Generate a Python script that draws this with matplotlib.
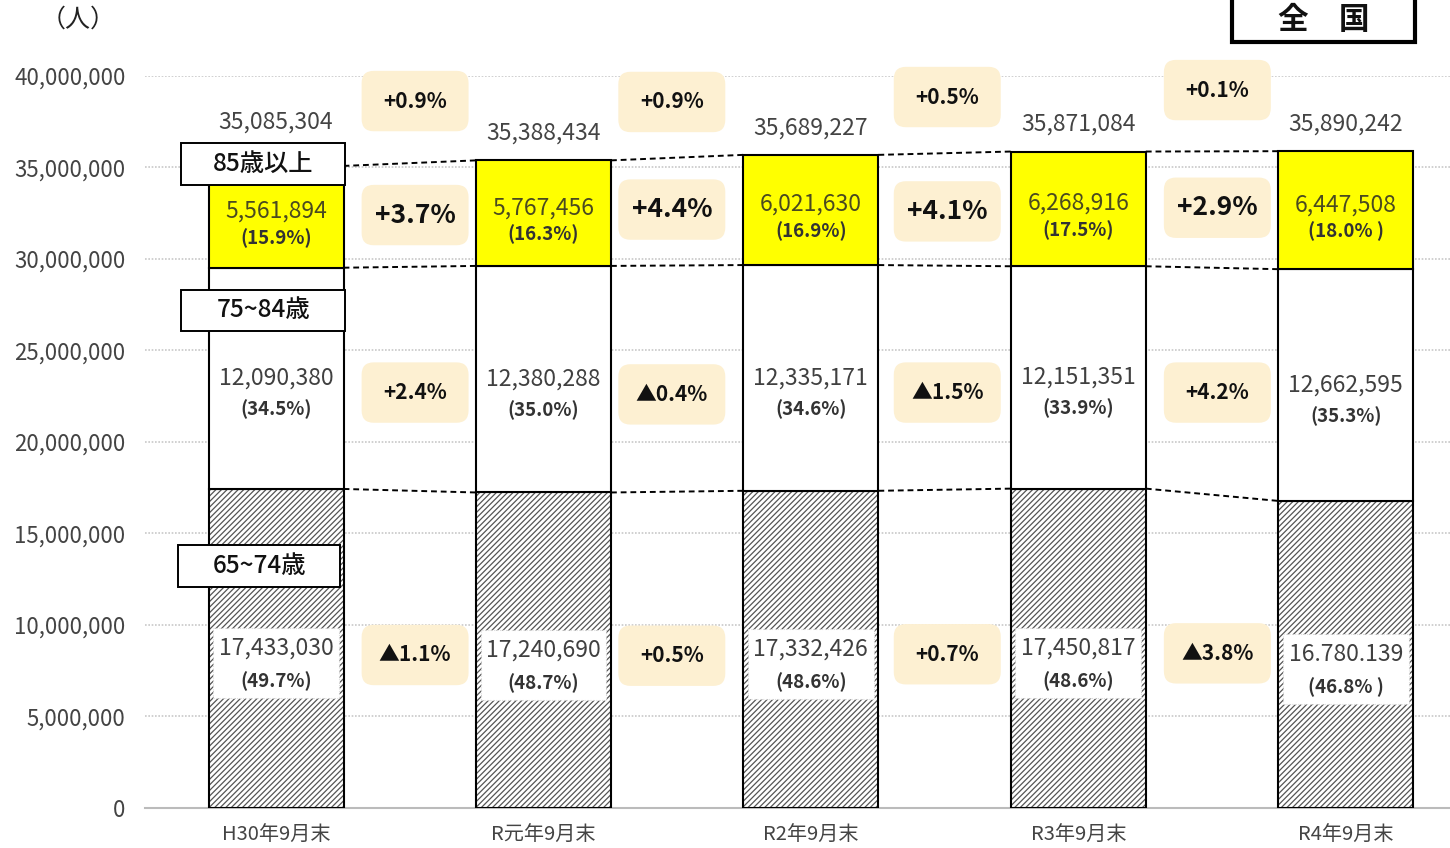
import numpy as np
import matplotlib
matplotlib.use("Agg")
import matplotlib.pyplot as plt
from matplotlib.patches import Rectangle, FancyBboxPatch
from matplotlib.ticker import FuncFormatter

plt.rcParams['font.family'] = ['Noto Sans CJK JP', 'DejaVu Sans']
plt.rcParams['hatch.linewidth'] = 0.9

# --- データ ---
periods = ['H30年9月末', 'R元年9月末', 'R2年9月末', 'R3年9月末', 'R4年9月末']
age_65_74 = [17433030, 17240690, 17332426, 17450817, 16780139]
age_75_84 = [12090380, 12380288, 12335171, 12151351, 12662595]
age_85_up = [5561894, 5767456, 6021630, 6268916, 6447508]
totals = [35085304, 35388434, 35689227, 35871084, 35890242]

lbl_65_74 = ['17,433,030', '17,240,690', '17,332,426', '17,450,817', '16.780.139']
lbl_75_84 = ['12,090,380', '12,380,288', '12,335,171', '12,151,351', '12,662,595']
lbl_85_up = ['5,561,894', '5,767,456', '6,021,630', '6,268,916', '6,447,508']
pct_65_74 = ['(49.7%)', '(48.7%)', '(48.6%)', '(48.6%)', '(46.8% )']
pct_75_84 = ['(34.5%)', '(35.0%)', '(34.6%)', '(33.9%)', '(35.3%)']
pct_85_up = ['(15.9%)', '(16.3%)', '(16.9%)', '(17.5%)', '(18.0% )']

chg_total = ['+0.9%', '+0.9%', '+0.5%', '+0.1%']
chg_85_up = ['+3.7%', '+4.4%', '+4.1%', '+2.9%']
chg_75_84 = ['+2.4%', '▲0.4%', '▲1.5%', '+4.2%']
chg_65_74 = ['▲1.1%', '+0.5%', '+0.7%', '▲3.8%']

# --- レイアウト ---
fig = plt.figure(figsize=(14.5, 8.48), dpi=100)
ax = fig.add_axes([0.1, 0.0472, 0.9, 0.8632])

x = np.arange(len(periods))
w = 0.505
v65 = np.array(age_65_74)
v75 = np.array(age_75_84)
v85 = np.array(age_85_up)

# 65~74歳 (斜線)
ax.bar(x, v65, width=w, color='white', edgecolor='#555555', hatch='//////', linewidth=0, zorder=2)
ax.bar(x, v65, width=w, fill=False, edgecolor='black', linewidth=1.5, zorder=3)
# 75~84歳
ax.bar(x, v75, bottom=v65, width=w, color='white', edgecolor='black', linewidth=1.5, zorder=3)
# 85歳以上
ax.bar(x, v85, bottom=v65 + v75, width=w, color='#FFFF00', edgecolor='black', linewidth=1.5, zorder=3)

# 破線
levels = [v65, v65 + v75, v65 + v75 + v85]
for lev in levels:
    for i in range(len(x) - 1):
        ax.plot([x[i] + w / 2, x[i + 1] - w / 2], [lev[i], lev[i + 1]],
                color='black', linestyle=(0, (3, 2)), linewidth=1.4, zorder=4)

# グリッド・軸
ax.set_ylim(0, 40000000)
ax.set_xlim(-0.49, 4.39)
ax.set_yticks(np.arange(0, 40000001, 5000000))
ax.yaxis.set_major_formatter(FuncFormatter(lambda v, p: f'{int(v):,}'))
ax.grid(axis='y', color='#c8c8c8', linestyle=(0, (1, 1)), linewidth=1.2, zorder=0)
ax.set_axisbelow(True)
for s in ['top', 'right', 'left']:
    ax.spines[s].set_visible(False)
ax.spines['bottom'].set_color('#bbbbbb')
ax.spines['bottom'].set_linewidth(1.5)
ax.tick_params(axis='both', length=0, labelcolor='#444444')
ax.tick_params(axis='y', pad=14, labelsize=16)
ax.set_xticks(x)
ax.set_xticklabels(periods, fontsize=14.5)
ax.tick_params(axis='x', pad=12)

# 合計ラベル
top_off = [2400000, 1500000, 1470000, 1500000, 1500000]
for i in x:
    ax.text(i, totals[i] + top_off[i], f'{totals[i]:,}', ha='center', va='center',
            fontsize=16.5, color='#444444', zorder=6)

# 各区分ラベル
num_c = '#404040'
for i in x:
    c85 = v65[i] + v75[i] + v85[i] / 2
    ax.text(i, c85 + 300000, lbl_85_up[i], ha='center', va='center', fontsize=16.5, color='#4a4a20', zorder=6)
    ax.text(i, c85 - 1150000, pct_85_up[i], ha='center', va='center', fontsize=13.5,
            fontweight='bold', color='#333333', zorder=6)
    c75 = v65[i] + v75[i] / 2
    ax.text(i, c75, lbl_75_84[i], ha='center', va='center', fontsize=16.5, color=num_c, zorder=6)
    ax.text(i, c75 - 1700000, pct_75_84[i], ha='center', va='center', fontsize=13.5,
            fontweight='bold', color='#333333', zorder=6)
    c65 = v65[i] / 2
    ax.add_patch(Rectangle((i - 0.235, c65 - 2700000), 0.47, 3800000, facecolor='white',
                           edgecolor='#dddddd', linestyle=':', linewidth=0.8, zorder=5))
    ax.text(i, c65, lbl_65_74[i], ha='center', va='center', fontsize=16.5, color=num_c, zorder=6)
    ax.text(i, c65 - 1800000, pct_65_74[i], ha='center', va='center', fontsize=13.5,
            fontweight='bold', color='#333333', zorder=6)

# 増減率バッジ
badge_x = [0.52, 1.48, 2.51, 3.52]
rows = [
    (chg_total, [38630000, 38580000, 38850000, 39230000], 15),
    (chg_85_up, [32400000, 32700000, 32600000, 32800000], 19),
    (chg_75_84, [22700000, 22600000, 22700000, 22700000], 15),
    (chg_65_74, [8360000, 8320000, 8400000, 8450000], 15),
]
bw, bh = 0.40, 3300000
for labels, ys, fs in rows:
    for bx, by, t in zip(badge_x, ys, labels):
        ax.add_patch(FancyBboxPatch((bx - bw / 2, by - bh / 2), bw, bh,
                                    boxstyle='round,pad=0,rounding_size=0.045',
                                    mutation_aspect=15000000, facecolor='#FDF0D2',
                                    edgecolor='none', zorder=5, clip_on=False))
        ax.text(bx, by, t, ha='center', va='center', fontsize=fs, fontweight='bold',
                color='#111111', zorder=6, clip_on=False)

# 区分名ボックス
cat_boxes = [
    ('85歳以上', -0.355, 34040000, 0.613, 2300000),
    ('75~84歳', -0.355, 26070000, 0.613, 2240000),
    ('65~74歳', -0.366, 12080000, 0.605, 2290000),
]
for t, bx, by, bwid, bht in cat_boxes:
    ax.add_patch(Rectangle((bx, by), bwid, bht, facecolor='white', edgecolor='black',
                           linewidth=1.4, zorder=7))
    ax.text(bx + bwid / 2, by + bht / 2, t, ha='center', va='center', fontsize=17.5,
            fontweight='medium', color='#111111', zorder=8)

# 単位・タイトルボックス
fig.text(0.054, 0.977, '（人）', ha='center', va='center', fontsize=18, color='#222222')
fig.patches.append(Rectangle((0.8497, 0.9505), 0.1262, 0.1, transform=fig.transFigure,
                             facecolor='white', edgecolor='black', linewidth=3, clip_on=False))
fig.text(0.913, 0.976, '全　国', ha='center', va='center', fontsize=22, fontweight='bold',
         color='#111111')

fig.savefig('out.png', dpi=100)
